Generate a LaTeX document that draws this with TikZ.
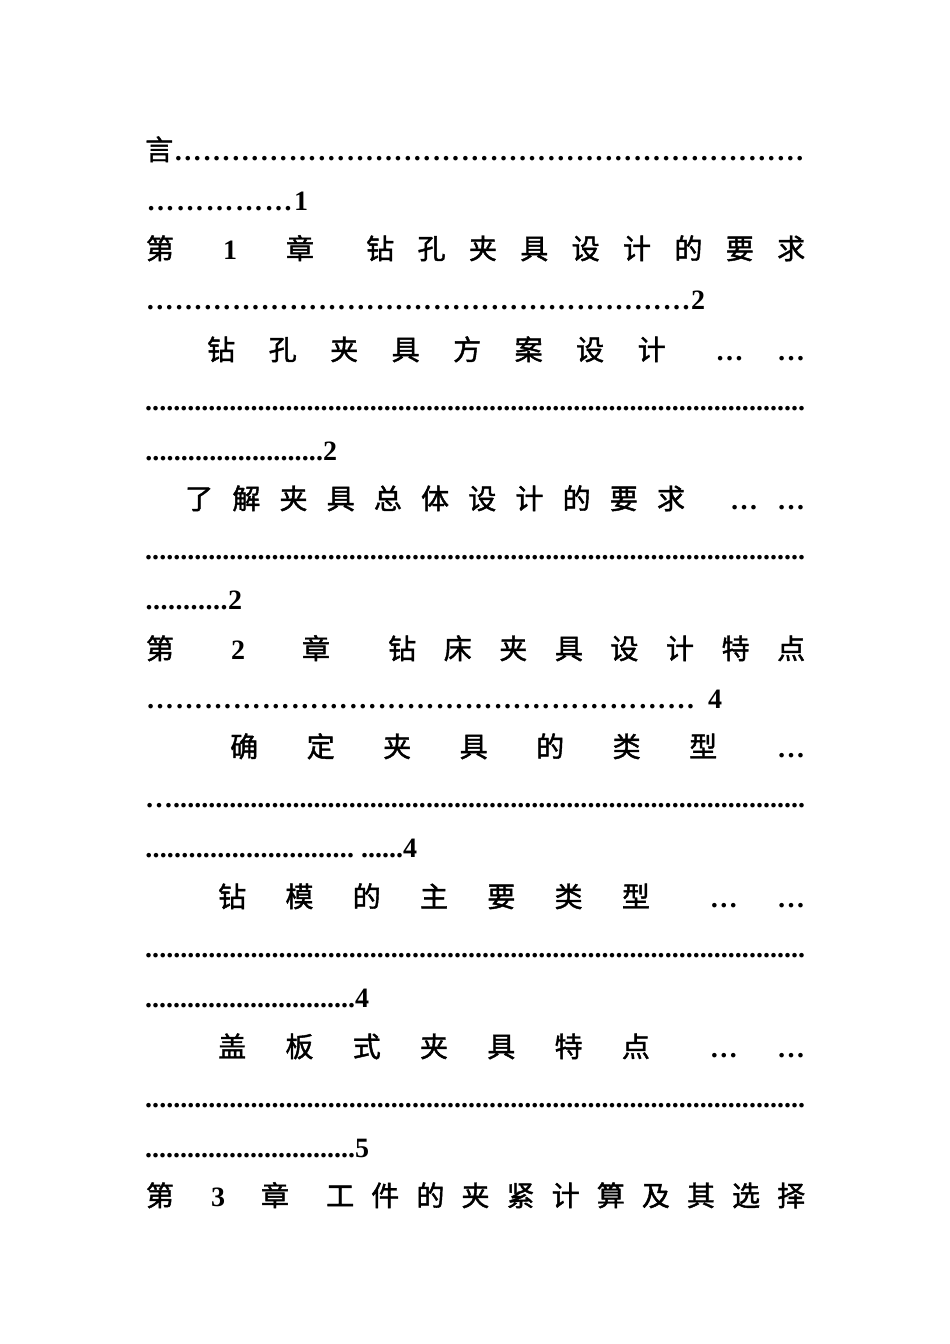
\documentclass[tikz,border=0pt]{standalone}
\usepackage{fontspec}
\setmainfont{Liberation Serif}
\newfontfamily\cjk{Noto Sans CJK SC}[AutoFakeBold=1.5]
\newfontfamily\lat{Liberation Serif}
\newcommand\myell{\xleaders\hbox{…}\hfill}
\newcommand\myper{\xleaders\hbox{.}\hfill}
\newcommand\gp{\hfill}
\tikzset{row/.style={anchor=base west,inner sep=0pt,font=\fontsize{28}{34}\selectfont\bfseries},
 cen/.style={anchor=base,inner sep=0pt,font=\fontsize{28}{34}\selectfont\bfseries}}
\begin{document}
\begin{tikzpicture}[x=1pt,y=1pt]
\useasboundingbox (0,0) rectangle (950,-1344);
\node[row] (r1) at (145,-160) {\hbox to 660pt{\cjk 言\lat\myell}};
\node[row] (r2) at (145,-210) {\hbox to 163pt{\lat\myell 1}};
\node[cen] (c3a) at (160,-259) {\cjk 第};
\node[cen] (c3b) at (230,-259) {\lat 1};
\node[cen] (c3c) at (300,-259) {\cjk 章};
\node[row] (r3) at (366,-259) {\hbox to 439pt{\cjk 钻\gp 孔\gp 夹\gp 具\gp 设\gp 计\gp 的\gp 要\gp 求}};
\node[row] (r4) at (145,-309) {\hbox to 560pt{\lat\myell 2}};
\node[row] (r5) at (207,-360) {\hbox to 598pt{\cjk 钻\gp 孔\gp 夹\gp 具\gp 方\gp 案\gp 设\gp 计\hskip50pt\lat …\gp …}};
\node[row] (r6) at (145,-410) {\hbox to 660pt{\lat\myper}};
\node[row] (r7) at (145,-460) {\hbox to 192pt{\lat\myper 2}};
\node[row] (r8) at (185,-509) {\hbox to 620pt{\cjk 了\gp 解\gp 夹\gp 具\gp 总\gp 体\gp 设\gp 计\gp 的\gp 要\gp 求\hskip45pt\lat …\gp …}};
\node[row] (r9) at (145,-559) {\hbox to 660pt{\lat\myper}};
\node[row] (r10) at (145,-609) {\hbox to 97pt{\lat\myper 2}};
\node[cen] (c11a) at (160,-659) {\cjk 第};
\node[cen] (c11b) at (238,-659) {\lat 2};
\node[cen] (c11c) at (316,-659) {\cjk 章};
\node[row] (r11) at (388,-659) {\hbox to 417pt{\cjk 钻\gp 床\gp 夹\gp 具\gp 设\gp 计\gp 特\gp 点}};
\node[row] (r12) at (145,-708) {\hbox to 577pt{\lat\myell\hskip12pt 4}};
\node[row] (r13) at (230,-757) {\hbox to 575pt{\cjk 确\gp 定\gp 夹\gp 具\gp 的\gp 类\gp 型\hskip60pt\lat …}};
\node[row] (r14) at (145,-807) {\hbox to 660pt{\lat …\myper}};
\node[row] (r15) at (145,-857) {\hbox to 272pt{\lat\myper\ ......4}};
\node[row] (r16) at (218,-907) {\hbox to 587pt{\cjk 钻\gp 模\gp 的\gp 主\gp 要\gp 类\gp 型\hskip60pt\lat …\gp …}};
\node[row] (r17) at (145,-957) {\hbox to 660pt{\lat\myper}};
\node[row] (r18) at (145,-1007) {\hbox to 224pt{\lat\myper 4}};
\node[row] (r19) at (218,-1057) {\hbox to 587pt{\cjk 盖\gp 板\gp 式\gp 夹\gp 具\gp 特\gp 点\hskip60pt\lat …\gp …}};
\node[row] (r20) at (145,-1107) {\hbox to 660pt{\lat\myper}};
\node[row] (r21) at (145,-1157) {\hbox to 224pt{\lat\myper 5}};
\node[cen] (c22a) at (160,-1206) {\cjk 第};
\node[cen] (c22b) at (218,-1206) {\lat 3};
\node[cen] (c22c) at (275,-1206) {\cjk 章};
\node[row] (r22) at (326,-1206) {\hbox to 479pt{\cjk 工\gp 件\gp 的\gp 夹\gp 紧\gp 计\gp 算\gp 及\gp 其\gp 选\gp 择}};
\end{tikzpicture}
\end{document}
